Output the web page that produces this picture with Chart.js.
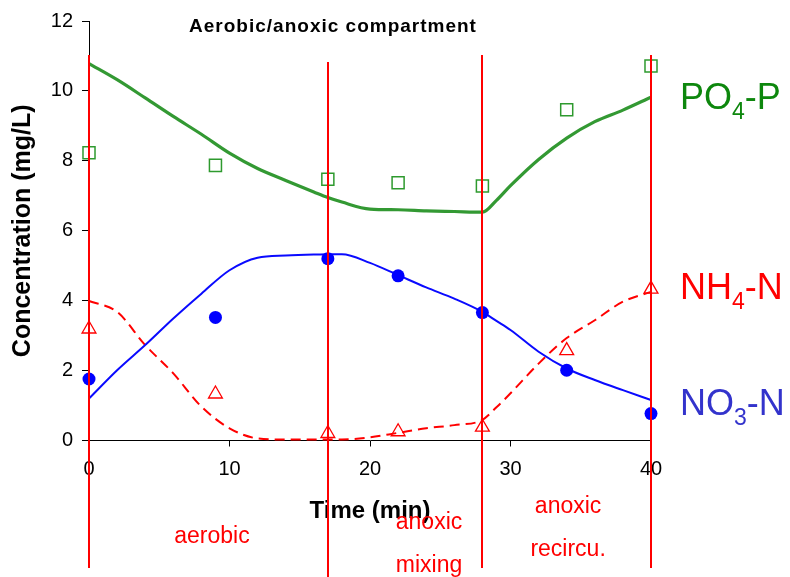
<!DOCTYPE html>
<html>
<head>
<meta charset="utf-8">
<script src="https://cdn.jsdelivr.net/npm/chart.js@4"></script>
<style>
  html, body { margin: 0; padding: 0; background: #fff; }
  #wrap { width: 790px; height: 577px; }
</style>
</head>
<body>
<div id="wrap"><canvas id="chart1" width="790" height="577"></canvas></div>
<script>
// measured samples
var timeMeas = [0, 9, 17, 22, 28, 34, 40];
var po4Meas = [8.23, 7.87, 7.47, 7.37, 7.28, 9.46, 10.71];
var no3Meas = [1.76, 3.52, 5.2, 4.71, 3.66, 2.01, 0.77];
var nh4Meas = [3.19, 1.33, 0.2, 0.25, 0.38, 2.57, 4.33];

// model curves
var timeModel = [0, 2, 4, 6, 8, 10, 12, 14, 16, 17, 18, 20, 22, 24, 26, 28, 29, 30, 32, 34, 36, 38, 40];
var po4Model = [10.78, 10.32, 9.8, 9.27, 8.76, 8.22, 7.78, 7.44, 7.11, 6.95, 6.82, 6.62, 6.6, 6.57, 6.55, 6.53, 6.87, 7.29, 8.04, 8.65, 9.12, 9.45, 9.82];
var no3Model = [1.2, 2.01, 2.73, 3.49, 4.2, 4.87, 5.23, 5.29, 5.32, 5.33, 5.33, 5.08, 4.73, 4.38, 4.06, 3.68, 3.42, 3.16, 2.54, 2.06, 1.73, 1.44, 1.16];
var nh4Model = [3.99, 3.68, 2.73, 1.92, 0.97, 0.35, 0.06, 0.03, 0.03, 0.03, 0.03, 0.09, 0.22, 0.35, 0.44, 0.59, 0.95, 1.35, 2.2, 2.93, 3.44, 3.97, 4.25];

// operating phases
var phaseBounds = [0, 17, 28, 40];
var phaseNames = [["aerobic"], ["anoxic", "mixing"], ["anoxic", "recircu."]];
var phaseCenters = [8.75, 24.2, 34.1];

var xTicks = [0, 10, 20, 30, 40];
var yTicks = [0, 2, 4, 6, 8, 10, 12];

var FONT = "'Liberation Sans', Arial, sans-serif";

function pts(xs, ys) {
  return xs.map(function (x, i) { return { x: x, y: ys[i] }; });
}

var decorations = {
  id: "decorations",
  afterDraw: function (chart) {
    var ctx = chart.ctx;
    var xs = chart.scales.x;
    ctx.save();

    // title
    ctx.fillStyle = "#000";
    ctx.font = "bold 19px " + FONT;
    ctx.textAlign = "center";
    ctx.textBaseline = "alphabetic";
    try { ctx.letterSpacing = "1px"; } catch (e) {}
    ctx.fillText("Aerobic/anoxic compartment", 333, 31.5);
    try { ctx.letterSpacing = "0px"; } catch (e) {}

    // phase boundaries
    var tops = [55, 62, 55, 55];
    var bottoms = [568, 577, 568, 568];
    ctx.strokeStyle = "#ff0000";
    ctx.lineWidth = 2;
    phaseBounds.forEach(function (b, i) {
      var px = Math.round(xs.getPixelForValue(b));
      ctx.beginPath();
      ctx.moveTo(px, tops[i]);
      ctx.lineTo(px, bottoms[i]);
      ctx.stroke();
    });

    // phase names
    var baselines = [[543], [529, 572], [513, 556]];
    ctx.fillStyle = "#ff0000";
    ctx.font = "23px " + FONT;
    ctx.textAlign = "center";
    phaseNames.forEach(function (lines, i) {
      var px = xs.getPixelForValue(phaseCenters[i]);
      lines.forEach(function (t, j) {
        ctx.fillText(t, px, baselines[i][j]);
      });
    });

    // series labels with subscripts
    function subLabel(a, sub, b, y, color) {
      var x = 680;
      ctx.fillStyle = color;
      ctx.textAlign = "left";
      ctx.font = "36px " + FONT;
      ctx.fillText(a, x, y);
      x += ctx.measureText(a).width;
      ctx.font = "23px " + FONT;
      ctx.fillText(sub, x, y + 10);
      x += ctx.measureText(sub).width;
      ctx.font = "36px " + FONT;
      ctx.fillText(b, x, y);
    }
    subLabel("PO", "4", "-P", 109, "#0d870d");
    subLabel("NH", "4", "-N", 299, "#ff0000");
    subLabel("NO", "3", "-N", 415, "#3333cc");

    ctx.restore();
  }
};

var chart1 = new Chart(document.getElementById("chart1"), {
  type: "scatter",
  data: {
    datasets: [
      {
        label: "PO4-P measured",
        data: pts(timeMeas, po4Meas),
        pointStyle: "rect",
        pointRadius: 8.5,
        pointBorderWidth: 1.5,
        borderColor: "#2e9a2e",
        backgroundColor: "rgba(0,0,0,0)",
        clip: false
      },
      {
        label: "NO3-N measured",
        data: pts(timeMeas, no3Meas),
        pointStyle: "circle",
        pointRadius: 6.5,
        pointBorderWidth: 0,
        borderColor: "#0000ff",
        backgroundColor: "#0000ff",
        clip: false
      },
      {
        label: "NH4-N measured",
        data: pts(timeMeas, nh4Meas),
        pointStyle: "triangle",
        pointRadius: 8,
        pointBorderWidth: 1.3,
        borderColor: "#ff0000",
        backgroundColor: "rgba(0,0,0,0)",
        clip: false
      },
      {
        label: "PO4-P model",
        data: pts(timeModel, po4Model),
        showLine: true,
        pointRadius: 0,
        borderColor: "#339933",
        borderWidth: 3.2,
        cubicInterpolationMode: "monotone",
        clip: false
      },
      {
        label: "NO3-N model",
        data: pts(timeModel, no3Model),
        showLine: true,
        pointRadius: 0,
        borderColor: "#0a0aff",
        borderWidth: 2,
        cubicInterpolationMode: "monotone",
        clip: false
      },
      {
        label: "NH4-N model",
        data: pts(timeModel, nh4Model),
        showLine: true,
        pointRadius: 0,
        borderColor: "#ff0000",
        borderWidth: 2,
        borderDash: [10, 6],
        cubicInterpolationMode: "monotone",
        clip: false
      }
    ]
  },
  options: {
    responsive: false,
    animation: false,
    layout: { padding: { top: 20.5, right: 139, left: 0, bottom: 0 } },
    plugins: {
      legend: { display: false },
      tooltip: { enabled: false }
    },
    scales: {
      x: {
        type: "linear",
        min: 0,
        max: 40,
        afterBuildTicks: function (s) { s.ticks = xTicks.map(function (v) { return { value: v }; }); },
        afterFit: function (s) { s.height = 136.5; },
        grid: { drawOnChartArea: false, drawTicks: true, tickLength: 6, tickColor: "#000" },
        border: { color: "#000", width: 1 },
        ticks: { color: "#000", padding: 11, font: { family: FONT, size: 20 } },
        title: {
          display: true,
          text: "Time (min)",
          color: "#000",
          font: { family: FONT, size: 24, weight: "bold" },
          padding: { top: 0, bottom: 51.6 }
        }
      },
      y: {
        min: 0,
        max: 12,
        afterBuildTicks: function (s) { s.ticks = yTicks.map(function (v) { return { value: v }; }); },
        afterFit: function (s) { s.width = 89; },
        grid: { drawOnChartArea: false, drawTicks: true, tickLength: 7, tickColor: "#000" },
        border: { color: "#000", width: 1 },
        ticks: { color: "#000", padding: 9, font: { family: FONT, size: 20 } },
        title: {
          display: true,
          text: "Concentration (mg/L)",
          color: "#000",
          font: { family: FONT, size: 25, weight: "bold" },
          padding: { top: 8, bottom: 0 }
        }
      }
    }
  },
  plugins: [decorations]
});
</script>
</body>
</html>
